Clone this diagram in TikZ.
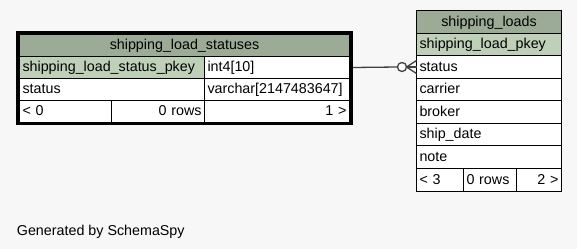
\documentclass[tikz,border=0pt]{standalone}
\usepackage{fontspec}
\setmainfont{Liberation Sans}
\definecolor{bgcol}{HTML}{F7F7F7}
\definecolor{headcol}{HTML}{9BAB96}
\definecolor{pkcol}{HTML}{BED1B8}
\definecolor{linkcol}{HTML}{404040}
\begin{document}
\begin{tikzpicture}[x=1pt,y=-1pt,
  cell/.style={draw=black, line width=1pt, fill=white, anchor=north west,
    inner ysep=0pt, inner xsep=3pt, outer sep=0pt,
    minimum height=22pt, minimum width=#1, text width=#1-6pt,
    text height=11pt, text depth=3pt,
    font=\fontsize{14.3}{16}\selectfont, align=left},
  tall/.style={minimum height=23pt},
  headcell/.style={cell=#1, fill=headcol, align=center},
  pkcell/.style={cell=#1, fill=pkcol},
  rcell/.style={cell=#1, align=right},
  link/.style={draw=linkcol, line width=1.3pt},
]
\useasboundingbox[fill=bgcol] (0,0) rectangle (577,249);

% table shipping_load_statuses
\node[headcell=330pt] (lt) at (19.5,34.5) {shipping\_load\_statuses};
\node[pkcell=185pt] (lpk) at (19.5,56.5) {shipping\_load\_status\_pkey};
\node[cell=145pt] (lpkt) at (204.5,56.5) {int4[10]};
\node[cell=185pt] (lst) at (19.5,78.5) {status};
\node[cell=145pt] (lstt) at (204.5,78.5) {varchar[2147483647]};
\node[cell=92pt] (lf1) at (19.5,100.5) {< 0};
\node[rcell=93pt] (lf2) at (111.5,100.5) {0 rows};
\node[rcell=145pt] (lf3) at (204.5,100.5) {1 >};
\draw[line width=3pt] (17.5,32) rectangle (351,123.5);

% table shipping_loads
\node[headcell=145pt, tall] (rt) at (416.5,10.5) {shipping\_loads};
\node[pkcell=145pt] (rpk) at (416.5,33.5) {shipping\_load\_pkey};
\node[cell=145pt, tall] (rstat) at (416.5,55.5) {status};
\node[cell=145pt] (rcar) at (416.5,78.5) {carrier};
\node[cell=145pt, tall] (rbro) at (416.5,100.5) {broker};
\node[cell=145pt] (rship) at (416.5,123.5) {ship\_date};
\node[cell=145pt, tall] (rnote) at (416.5,145.5) {note};
\node[cell=47pt, tall] (rf1) at (416.5,168.5) {< 3};
\node[cell=53pt, tall] (rf2) at (463.5,168.5) {0 rows};
\node[rcell=45pt, tall] (rf3) at (516.5,168.5) {2 >};

% relationship: zero-or-many
\coordinate (lend) at ([xshift=3pt]lpkt.east);
\coordinate (ring) at ([xshift=-14.5pt]rstat.west);
\draw[link] (lend) -- ([xshift=-4.5pt]ring);
\draw[link, fill=white] (ring) circle (4.5pt);
\draw[link] ([xshift=4.5pt]ring) -- (rstat.west);
\draw[link] ([xshift=4.5pt]ring) -- ([yshift=6.5pt]rstat.west);
\draw[link] ([xshift=4.5pt]ring) -- ([yshift=-6.5pt]rstat.west);

\node[anchor=base west, inner sep=0pt, font=\fontsize{14.3}{16}\selectfont] (gen) at (16.7,235) {Generated by SchemaSpy};
\end{tikzpicture}
\end{document}
